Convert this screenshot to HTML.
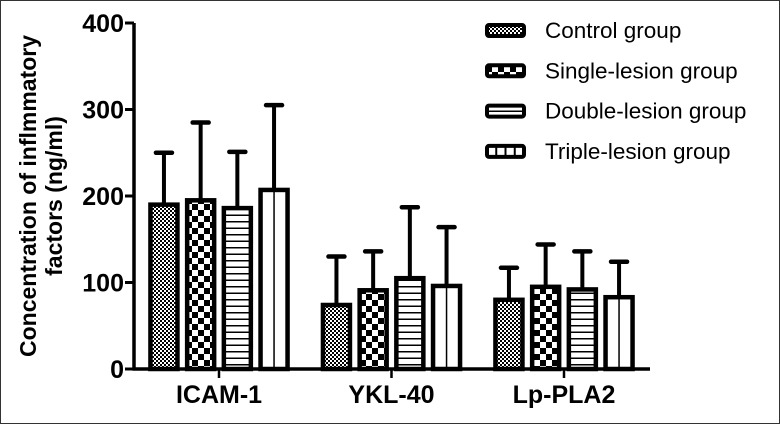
<!DOCTYPE html>
<html><head><meta charset="utf-8"><style>
html,body{margin:0;padding:0;background:#fff}
svg{display:block;font-family:"Liberation Sans",Arial,sans-serif}
</style></head><body>
<svg id="chart" width="780" height="424" viewBox="0 0 780 424">
<defs>
<pattern id="p0" width="4" height="4" patternUnits="userSpaceOnUse"><rect width="4" height="4" fill="#fff"/><rect width="2" height="2" fill="#000"/><rect x="2" y="2" width="2" height="2" fill="#000"/></pattern>
<pattern id="p1" width="12" height="12" patternUnits="userSpaceOnUse"><rect width="12" height="12" fill="#fff"/><rect width="6" height="6" fill="#000"/><rect x="6" y="6" width="6" height="6" fill="#000"/></pattern>
<pattern id="p2" width="6" height="6.5" patternUnits="userSpaceOnUse"><rect width="6" height="6.5" fill="#fff"/><rect y="0" width="6" height="1.5" fill="#000"/></pattern>
</defs>
<rect x="0.5" y="0.5" width="779" height="423" fill="#fff" stroke="#333"/>
<g id="axes"></g>
<g id="bars"></g>
<g id="legend"></g>
<text transform="translate(36,196) rotate(-90)" text-anchor="middle" font-size="23" font-weight="bold">Concentration of inflmmatory</text>
<text transform="translate(62,196) rotate(-90)" text-anchor="middle" font-size="23" font-weight="bold">factors (ng/ml)</text>
</svg>
<script>
const categories = ["ICAM-1","YKL-40","Lp-PLA2"];
const seriesNames = ["Control group","Single-lesion group","Double-lesion group","Triple-lesion group"];
const control = [190, 74, 80];
const single = [195, 91, 95];
const double = [186, 105, 92];
const triple = [207, 96, 83];
const controlErr = [60, 56, 37];
const singleErr = [90, 45, 49];
const doubleErr = [65, 82, 44];
const tripleErr = [98, 68, 41];
const yTicks = [0, 100, 200, 300, 400];

const NS = "http://www.w3.org/2000/svg";
function mk(tag, attrs, parent){const e=document.createElementNS(NS,tag);for(const k in attrs)e.setAttribute(k,attrs[k]);parent.appendChild(e);return e;}
const y0=369, y400=23, xAxisL=134, xAxisR=650;
function yScale(v){return y0-(v/400)*(y0-y400);}
function xCenter(i){return 219+i*172.5;}
const barW=27, step=36.7;
function xBar(i,s){return xCenter(i)+(s-1.5)*step-barW/2;}

const axes=document.getElementById('axes');
const yl=mk('line',{x1:xAxisL,y1:y400,x2:xAxisL,y2:y0,stroke:'#000','stroke-width':3.5},axes);


const xl=mk('line',{x1:xAxisL-1.5,y1:y0,x2:xAxisR,y2:y0,stroke:'#000','stroke-width':3.5},axes);


yTicks.forEach(t=>{
  const y=yScale(t);
  mk('line',{x1:xAxisL-9,y1:y,x2:xAxisL,y2:y,stroke:'#000','stroke-width':3},axes);
  const tx=mk('text',{x:xAxisL-10,y:y+9,'text-anchor':'end','font-size':25,'font-weight':'bold'},axes);
  tx.textContent=t;
  
  
});
categories.forEach((c,i)=>{
  const x=xCenter(i);
  mk('line',{x1:x,y1:y0,x2:x,y2:y0+9,stroke:'#000','stroke-width':2.5},axes);
  const tx=mk('text',{x:x,y:y0+34,'text-anchor':'middle','font-size':25,'font-weight':'bold'},axes);
  tx.textContent=c;
  
  
});

const series=[control,single,double,triple];
const errs=[controlErr,singleErr,doubleErr,tripleErr];
const fills=['url(#p0)','url(#p1)','url(#p2)','#fff'];
const bars=document.getElementById('bars');
series.forEach((vals,s)=>{
  vals.forEach((v,i)=>{
    const x=xBar(i,s), yt=yScale(v), ye=yScale(v+errs[s][i]), cx=x+barW/2;
    const el=mk('line',{x1:cx,y1:yt,x2:cx,y2:ye,stroke:'#000','stroke-width':4},bars);
    
    
    mk('line',{x1:cx-8,y1:ye,x2:cx+8,y2:ye,stroke:'#000','stroke-width':4.5,'stroke-linecap':'round'},bars);
    const r=mk('rect',{x:x,y:yt,width:barW,height:y0-yt,fill:fills[s],stroke:'#000','stroke-width':4.5},bars);
    
    
    if(s===3){mk('line',{x1:cx,y1:yt,x2:cx,y2:y0,stroke:'#000','stroke-width':1.5},bars);}
  });
});

const legend=document.getElementById('legend');
const legFills=['url(#p0)','url(#p1)','url(#p2)','#fff'];
seriesNames.forEach((n,s)=>{
  const y=30+s*40.3;
  const g=mk('g',{},legend);
  
  
  mk('rect',{x:487,y:y-5,width:37,height:11,rx:2,fill:legFills[s],stroke:'#000','stroke-width':4},g);
  if(s===3){for(let k=1;k<4;k++)mk('line',{x1:487+k*9.25,y1:y-5,x2:487+k*9.25,y2:y+6,stroke:'#000','stroke-width':2},g);}
  const t=mk('text',{x:545,y:y+8,'font-size':22.5},g);
  t.textContent=n;
});
</script>
</body></html>
